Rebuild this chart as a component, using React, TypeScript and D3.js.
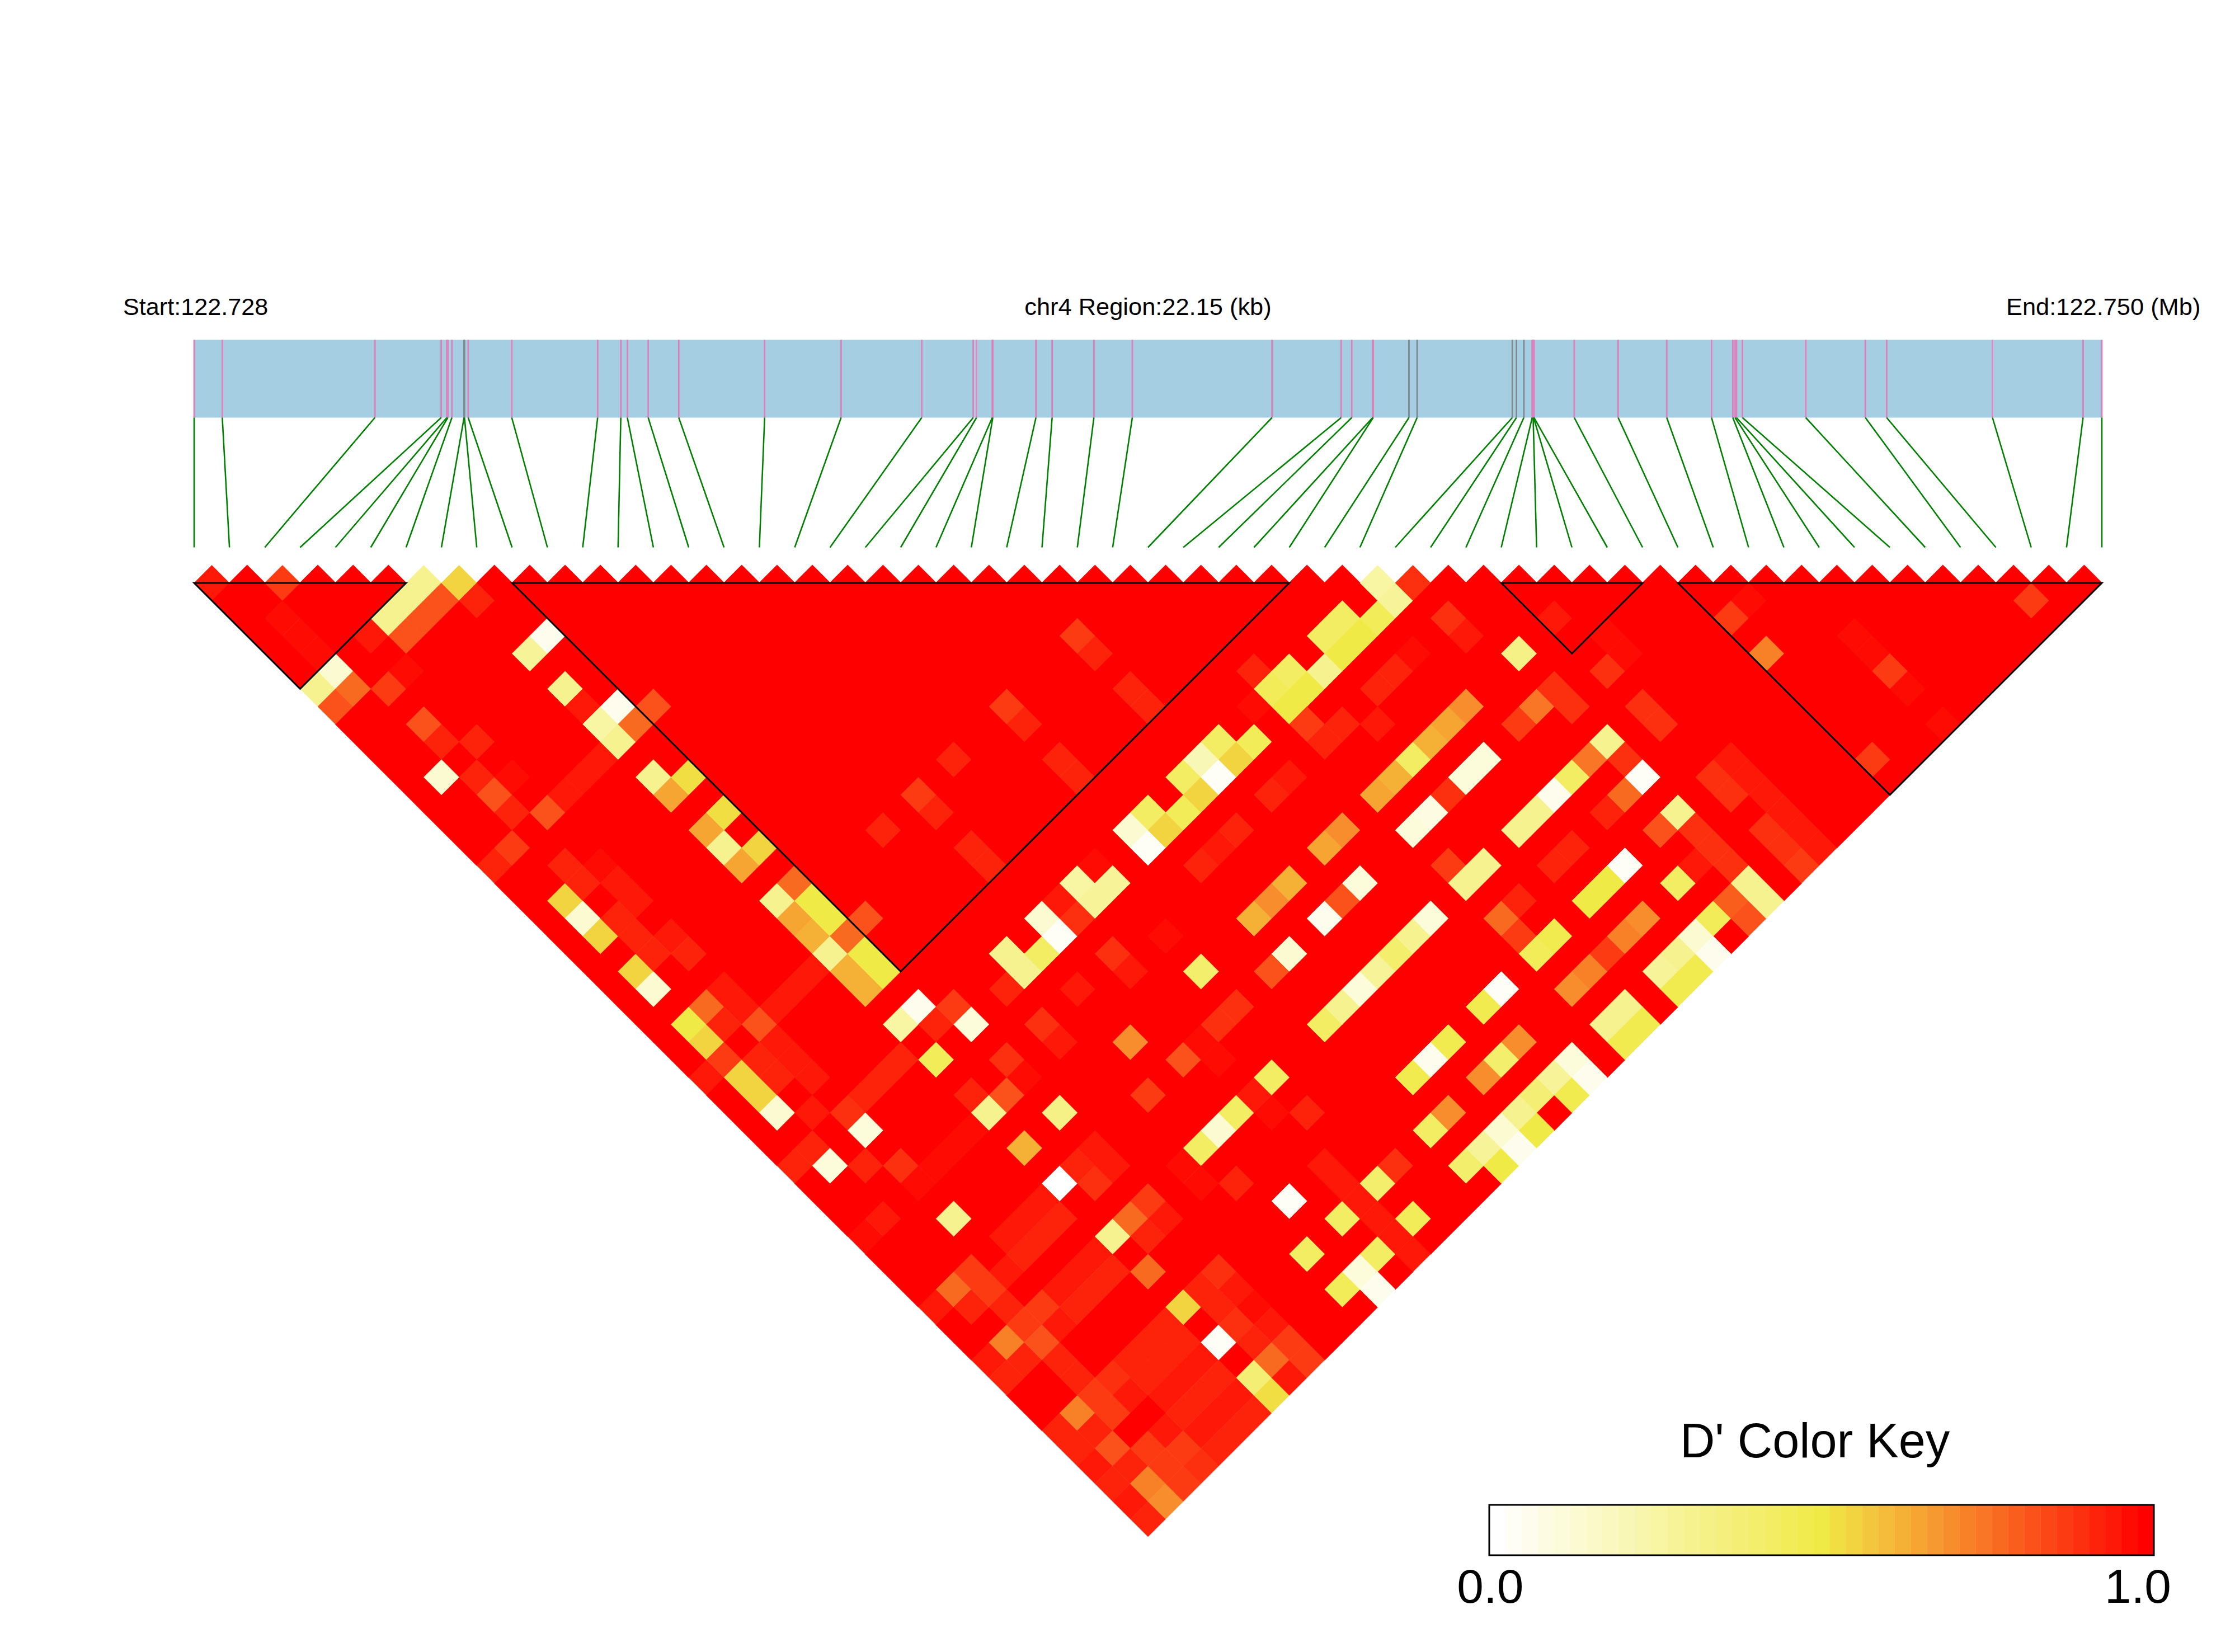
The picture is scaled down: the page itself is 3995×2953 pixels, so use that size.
import React from "react";
import * as d3 from "d3";

// SNP positions along the region, in kb from the start
const snpKb = [
  0, 0.327, 2.099, 2.869, 2.934, 2.946, 2.993, 3.134, 3.139, 3.182, 3.688, 4.685, 4.954, 5.03, 5.272, 5.627,
  6.624, 7.512, 8.448, 9.046, 9.084, 9.267, 9.273, 9.774, 9.962, 10.447, 10.893, 12.515, 13.318, 13.441,
  13.684, 13.69, 14.105, 14.2, 15.305, 15.353, 15.439, 15.536, 15.547, 15.552, 15.557, 16.024, 16.534, 17.098,
  17.618, 17.865, 17.891, 17.908, 17.977, 18.712, 19.404, 19.651, 20.88, 21.932, 22.15,
];
const greySnps = [7, 8, 32, 33, 34, 35, 36];
const regionKb = 22.15;
const startLabel = "Start:122.728";
const middleLabel = "chr4 Region:22.15 (kb)";
const endLabel = "End:122.750 (Mb)";
const keyTitle = "D' Color Key";
const keyTicks = ["0.0", "1.0"];
const keyTickAt = [0.0015, 0.976];

// LD blocks: first and last SNP of each outlined haplotype block
const blocks = [[0, 6], [9, 31], [37, 41], [42, 54]];

// D' values below 1, as [i + j, j - i, D'] for the SNP pair (i, j). Every other pair is 1.0.
const gap01to05 = [
  [1,1,.96],[5,1,.87],[13,1,.3],[15,1,.55],[67,1,.25],[69,1,.9],
  [12,2,.3],[14,2,.83],[16,2,.93],[68,2,.28],[88,2,.97],[104,2,.87],
  [5,3,.98],[11,3,.3],[13,3,.83],[65,3,.42],[67,3,.45],[71,3,.9],[77,3,.96],[87,3,.88],
  [6,4,.98],[10,4,.94],[12,4,.83],[20,4,.04],[50,4,.87],[64,4,.42],[66,4,.5],[72,4,.95],[80,4,.98],[94,4,.98],
  [7,5,.98],[19,5,.28],[51,5,.93],[63,5,.99],[65,5,.5],[69,5,.97],[75,5,.33],[81,5,.98],[89,5,.72],[95,5,.98],
];
const gap06to10 = [
  [8,6,.12],[12,6,.98],[60,6,.93],[62,6,.42],[64,6,.3],[68,6,.93],[80,6,.9],[96,6,.87],
  [7,7,.3],[9,7,.78],[11,7,.87],[21,7,.3],[53,7,.93],[61,7,.45],[63,7,.5],[67,7,.93],[77,7,.91],[97,7,.98],
  [8,8,.83],[22,8,.96],[24,8,.04],[26,8,.83],[46,8,.87],[54,8,.93],[60,8,.97],[62,8,.5],[72,8,.7],[76,8,.75],[78,8,.91],[82,8,.9],
  [13,9,.83],[23,9,.25],[25,9,.78],[47,9,.93],[63,9,.87],[65,9,.93],[67,9,.96],[71,9,.64],[75,9,.88],[83,9,.89],[99,9,.97],
  [14,10,.93],[16,10,.93],[24,10,.3],[58,10,.43],[60,10,.45],[64,10,.93],[70,10,.62],[80,10,.3],
];
const gap11to15 = [
  [23,11,.95],[43,11,.92],[49,11,.93],[57,11,.2],[59,11,.55],[69,11,.42],[73,11,.1],[79,11,.76],[81,11,.9],[87,11,.96],[95,11,.88],
  [14,12,.12],[16,12,.93],[18,12,.97],[22,12,.95],[26,12,.3],[28,12,.52],[50,12,.93],[56,12,.43],[58,12,.03],[62,12,.96],[68,12,.63],[72,12,.1],[78,12,.43],[82,12,.03],[86,12,.89],[88,12,.96],
  [17,13,.83],[21,13,.95],[27,13,.65],[41,13,.87],[57,13,.55],[61,13,.93],[67,13,.66],[71,13,.89],[77,13,.06],[81,13,.77],[87,13,.89],[89,13,.96],
  [18,14,.92],[20,14,.83],[30,14,.52],[42,14,.93],[54,14,.43],[56,14,.45],[70,14,.08],[76,14,.3],[80,14,.92],[84,14,.3],[90,14,.96],
  [29,15,.65],[39,15,.92],[53,15,.12],[55,15,.55],[59,15,.93],[65,15,.7],[69,15,.1],[75,15,.3],[83,15,.83],[85,15,.89],[89,15,.89],[91,15,.96],
];
const gap16to20 = [
  [18,16,.87],[30,16,.3],[32,16,.55],[44,16,.93],[54,16,.03],[58,16,.96],[64,16,.65],[78,16,.93],[86,16,.89],[90,16,.89],[92,16,.96],
  [17,17,.93],[21,17,.93],[23,17,.97],[31,17,.65],[45,17,.93],[51,17,.97],[57,17,.93],[71,17,.88],[73,17,.3],[77,17,.93],[81,17,.03],[85,17,.96],[87,17,.89],[91,17,.88],
  [22,18,.93],[24,18,.94],[34,18,.78],[50,18,.25],[52,18,.28],[62,18,.63],[66,18,.1],[72,18,.3],[80,18,.5],[84,18,.43],[88,18,.3],
  [21,19,.55],[25,19,.96],[33,19,.3],[35,19,.5],[49,19,.96],[51,19,.28],[61,19,.7],[65,19,.83],[75,19,.92],[79,19,.5],[87,19,.8],[89,19,.3],
  [22,20,.12],[24,20,.93],[34,20,.65],[36,20,.5],[38,20,.83],[48,20,.12],[50,20,.9],[60,20,.62],[64,20,.05],[70,20,.1],[74,20,.78],[82,20,.7],[86,20,.45],[88,20,.82],
];
const gap21to25 = [
  [23,21,.55],[25,21,.93],[27,21,.96],[35,21,.62],[37,21,.78],[49,21,.03],[55,21,.97],[69,21,.3],[75,21,.87],[77,21,.48],[81,21,.72],[85,21,.12],
  [26,22,.93],[28,22,.93],[36,22,.3],[38,22,.5],[46,22,.3],[48,22,.43],[52,22,.89],[62,22,.12],[68,22,.4],[76,22,.45],[80,22,.88],[84,22,.3],[86,22,.05],
  [25,23,.55],[35,23,.95],[37,23,.62],[39,23,.5],[47,23,.3],[53,23,.96],[57,23,.4],[61,23,.83],[67,23,.28],[79,23,.72],[83,23,.28],[85,23,.48],
  [26,24,.12],[30,24,.95],[34,24,.95],[38,24,.62],[46,24,.92],[50,24,.96],[66,24,.1],[74,24,.03],[78,24,.7],[84,24,.48],
  [29,25,.78],[31,25,.95],[33,25,.95],[41,25,.04],[43,25,.88],[59,25,.89],[65,25,.3],[73,25,.48],[81,25,.3],
];
const gap26to30 = [
  [28,26,.5],[30,26,.93],[32,26,.83],[40,26,.25],[42,26,.93],[44,26,.1],[48,26,.9],[58,26,.89],[64,26,.43],[80,26,.3],[82,26,.48],
  [29,27,.55],[33,27,.96],[49,27,.96],[53,27,.7],[57,27,.98],[71,27,.47],[75,27,.7],[81,27,.48],
  [30,28,.87],[32,28,.93],[34,28,.96],[40,28,.93],[42,28,.45],[46,28,.89],[56,28,.83],[58,28,.98],[70,28,.04],[74,28,.4],[78,28,.1],
  [29,29,.96],[31,29,.55],[33,29,.93],[35,29,.94],[39,29,.93],[47,29,.98],[61,29,.43],[69,29,.48],[73,29,.7],[77,29,.28],[79,29,.05],
  [32,30,.55],[38,30,.93],[44,30,.93],[46,30,.83],[54,30,.88],[60,30,.96],[76,30,.38],[78,30,.48],
];
const gap31to36 = [
  [33,31,.12],[35,31,.94],[37,31,.89],[45,31,.3],[49,31,.33],[59,31,.42],[61,31,.97],[63,31,.93],[71,31,.7],[75,31,.3],
  [38,32,.1],[44,32,.98],[58,32,.12],[70,32,.42],[74,32,.12],[76,32,.5],
  [35,33,.93],[43,33,.98],[47,33,.62],[51,33,.96],[57,33,.43],[73,33,.28],[75,33,.05],
  [34,34,.93],[36,34,.1],[38,34,.93],[40,34,.89],[42,34,.98],[50,34,.93],[52,34,.96],[56,34,.98],[64,34,.96],[68,34,.89],[72,34,.4],[74,34,.5],
  [41,35,.98],[49,35,0],[51,35,.91],[57,35,.98],[59,35,.93],[65,35,.96],[67,35,.4],
  [48,36,.95],[54,36,.87],[62,36,.03],[66,36,.96],
];
const gap37to42 = [
  [39,37,.96],[43,37,.3],[47,37,.95],[49,37,.93],[53,37,.78],[55,37,.96],[65,37,.43],[67,37,.96],[69,37,.45],
  [38,38,.97],[46,38,.95],[48,38,.93],[52,38,.3],[54,38,.93],[68,38,.96],
  [47,39,.93],[51,39,.95],[63,39,.42],[67,39,.42],[69,39,.96],
  [44,40,.87],[46,40,.96],[50,40,.95],[52,40,.93],[54,40,.78],[58,40,.89],[66,40,.1],
  [43,41,.78],[45,41,.87],[49,41,.95],[51,41,.93],[57,41,.93],[59,41,.96],[65,41,.45],[67,41,.05],
  [42,42,.96],[44,42,.93],[46,42,.93],[48,42,.87],[50,42,.93],[56,42,.55],[58,42,.93],[60,42,.98],
];
const gap43to54 = [
  [47,43,.87],[49,43,.96],[55,43,.93],[59,43,.89],[61,43,.96],
  [46,44,.72],[48,44,.82],[54,44,.93],[56,44,.93],[58,44,.03],[60,44,.93],[62,44,.87],
  [45,45,.96],[47,45,.93],[49,45,.93],[53,45,.93],[55,45,.93],[57,45,.95],[61,45,.78],[63,45,.87],
  [46,46,.93],[50,46,.93],[52,46,.89],[54,46,.93],[56,46,.95],[58,46,.93],[60,46,.38],[62,46,.96],
  [51,47,.87],[53,47,.96],[55,47,.95],[57,47,.93],[59,47,.95],[61,47,.53],
  [50,48,.72],[52,48,.87],[56,48,.93],[58,48,.95],[60,48,.93],
  [49,49,.93],[51,49,.93],[55,49,.96],[57,49,.95],[59,49,.93],
  [50,50,.93],[52,50,.83],[54,50,.87],[56,50,.87],[58,50,.93],
  [51,51,.96],[53,51,.93],[55,51,.87],[57,51,.89],
  [52,52,.93],[54,52,.72],[56,52,.87],
  [53,53,.96],[55,53,.7],
  [54,54,.93],
];

const keyStops = [0, 0.5, 0.66, 1];
const keyColors = ["#ffffff", "#f0ea46", "#f6a032", "#ff0000"];
const keySteps = 41;

const nSnp = snpKb.length;
const lowPairs = [...gap01to05, ...gap06to10, ...gap11to15, ...gap16to20, ...gap21to25, ...gap26to30, ...gap31to36, ...gap37to42, ...gap43to54];
const lowByKey = new Map(lowPairs.map(([s, g, v]) => [`${s}:${g}`, v]));
const cells: { s: number; g: number; v: number }[] = [];
for (let i = 0; i < nSnp; i++) {
  for (let j = i + 1; j < nSnp; j++) {
    const s = i + j;
    const g = j - i;
    cells.push({ s, g, v: lowByKey.get(`${s}:${g}`) ?? 1 });
  }
}

const W = 3995;
const H = 2953;
const LEFT = 347;
const RIGHT = 3757;

// i + j runs 0..2(n-1) along the track width; j - i runs 0..n-1 downward
const xPair = d3.scaleLinear().domain([0, 2 * (nSnp - 1)]).range([LEFT, RIGHT]);
const yGap = d3.scaleLinear().domain([0, nSnp - 1]).range([1010.4, 2715.2]);
const xKb = d3.scaleLinear().domain([0, regionKb]).range([LEFT, RIGHT]);
const ramp = d3.scaleLinear<string>().domain(keyStops).range(keyColors).interpolate(d3.interpolateRgb);
const colorOf = (v: number) => ramp(Math.round(v * (keySteps - 1)) / (keySteps - 1));
const xKey = d3.scaleLinear().domain([0, 1]).range([2662, 3850]);

const diamond = (s: number, g: number) =>
  [
    [xPair(s), yGap(g - 1)],
    [xPair(s + 1), yGap(g)],
    [xPair(s), yGap(g + 1)],
    [xPair(s - 1), yGap(g)],
  ].map((p) => p.join(",")).join(" ");

const outline = d3.line();
const FONT = "'Liberation Sans', Arial, Helvetica, sans-serif";

export default function App() {
  const reds = cells.filter((c) => c.v === 1);
  const others = cells.filter((c) => c.v !== 1);
  return (
    <svg
      width={W}
      height={H}
      viewBox={`0 0 ${W} ${H}`}
      style={{ position: "absolute", left: 0, top: 0, display: "block", background: "#fff" }}
      fontFamily={FONT}
    >
      <text x={220} y={563} fontSize={43.2}>{startLabel}</text>
      <text x={(LEFT + RIGHT) / 2} y={563} fontSize={43.4} textAnchor="middle">{middleLabel}</text>
      <text x={3586} y={563} fontSize={43.4}>{endLabel}</text>

      <rect x={LEFT} y={607.5} width={RIGHT - LEFT} height={139} fill="#a6cee3" />
      {snpKb.map((kb, k) => (
        <line
          key={`t${k}`}
          x1={xKb(kb)}
          x2={xKb(kb)}
          y1={607.5}
          y2={746.5}
          stroke={greySnps.includes(k) ? "#7f8a8e" : "#df7fbb"}
          strokeWidth={2.8}
        />
      ))}
      {snpKb.map((kb, k) => (
        <line
          key={`c${k}`}
          x1={xKb(kb)}
          y1={746.5}
          x2={xPair(2 * k)}
          y2={978.5}
          stroke="#008000"
          strokeWidth={2.6}
        />
      ))}

      {reds.map((c) => (
        <polygon key={`r${c.s}:${c.g}`} points={diamond(c.s, c.g)} fill="#ff0000" stroke="#ff0000" strokeWidth={1.4} />
      ))}
      {others.map((c) => (
        <polygon
          key={`o${c.s}:${c.g}`}
          points={diamond(c.s, c.g)}
          fill={colorOf(c.v)}
          stroke={colorOf(c.v)}
          strokeWidth={0.7}
        />
      ))}

      {blocks.map(([a, b]) => (
        <path
          key={`b${a}`}
          d={
            outline([
              [xPair(2 * a), yGap(1)],
              [xPair(2 * b), yGap(1)],
              [xPair(a + b), yGap(1 + (b - a))],
            ]) + "Z"
          }
          fill="none"
          stroke="#000"
          strokeWidth={3}
          strokeLinejoin="miter"
        />
      ))}

      <text x={3244} y={2605} fontSize={86.4} textAnchor="middle">{keyTitle}</text>
      {d3.range(keySteps).map((k) => (
        <rect
          key={`k${k}`}
          x={xKey(k / keySteps)}
          y={2690}
          width={xKey(1 / keySteps) - xKey(0) + 0.4}
          height={90}
          fill={ramp(k / (keySteps - 1))}
        />
      ))}
      <rect x={xKey(0)} y={2690} width={xKey(1) - xKey(0)} height={90} fill="none" stroke="#000" strokeWidth={3} />
      {keyTicks.map((t, k) => (
        <text key={t} x={xKey(keyTickAt[k])} y={2865} fontSize={85.6} textAnchor="middle">{t}</text>
      ))}
    </svg>
  );
}
